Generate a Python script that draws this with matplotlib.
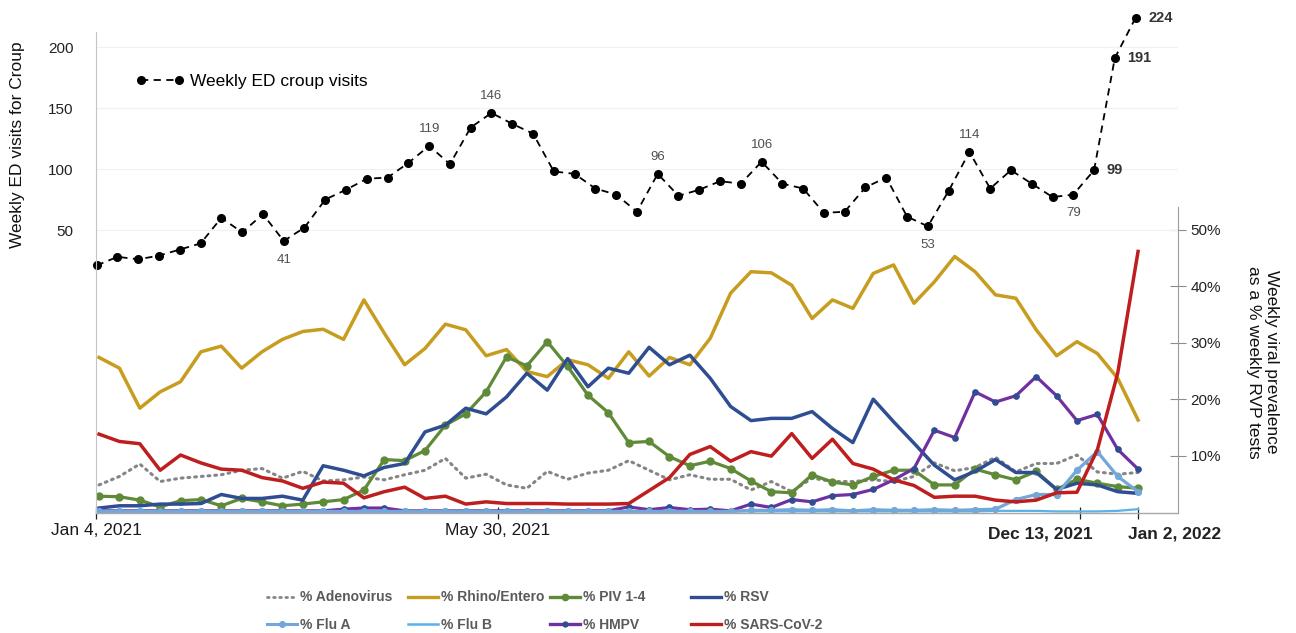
import matplotlib
matplotlib.use('Agg')
import matplotlib.pyplot as plt
from matplotlib.lines import Line2D

plt.rcParams['font.family'] = ['Liberation Sans', 'DejaVu Sans']

W, H = 1296, 633

########
## DATA
# weekly ED croup visits (51 weeks)
croup = [21, 28, 26, 29, 34, 39, 60, 48, 63, 41, 52, 75, 83, 92, 93, 105, 119, 104, 134, 146,
         137, 129, 98, 96, 84, 79, 65, 96, 78, 83, 90, 88, 106, 88, 84, 64, 65, 85, 93, 61,
         53, 82, 114, 84, 99, 88, 77, 79, 99, 191, 224]
lab_above = [16, 19, 27, 32, 42]
lab_below = [9, 40, 47]
lab_bold = [48, 49, 50]

# weekly viral prevalence, % of RVP tests (52 weeks)
adeno = [4.8, 6.3, 8.5, 5.4, 6.0, 6.3, 6.6, 7.4, 7.7, 6.0, 7.2, 5.5, 5.7, 6.2, 5.7, 6.6, 7.4, 9.5, 6.0, 6.7,
         4.8, 4.2, 7.2, 5.8, 6.9, 7.4, 9.1, 7.4, 5.7, 6.6, 5.8, 5.8, 3.9, 5.4, 3.6, 6.0, 5.4, 5.4, 5.7, 5.4,
         6.3, 8.7, 7.3, 7.9, 9.7, 7.1, 8.6, 8.6, 10.1, 7.1, 6.7, 7.0]
rhino = [27.4, 25.5, 18.4, 21.3, 23.1, 28.4, 29.4, 25.5, 28.4, 30.6, 32.0, 32.4, 30.6, 37.6, 31.7, 26.1, 29.0, 33.3, 32.3, 27.7,
         28.8, 24.9, 24.0, 27.0, 26.1, 23.7, 28.4, 24.1, 27.4, 26.1, 30.8, 38.8, 42.6, 42.4, 40.2, 34.3, 37.6, 36.1, 42.3, 43.8,
         37.0, 40.8, 45.3, 42.6, 38.5, 37.9, 32.3, 27.7, 30.2, 28.1, 23.7, 16.3]
piv = [2.8, 2.7, 2.1, 0.9, 2.0, 2.2, 1.1, 2.4, 1.8, 1.1, 1.4, 1.8, 2.2, 3.9, 9.3, 9.1, 10.9, 15.4, 17.4, 21.3,
       27.5, 25.9, 30.2, 25.8, 20.7, 17.6, 12.3, 12.5, 9.8, 8.2, 9.0, 7.7, 5.5, 3.6, 3.4, 6.6, 5.3, 4.8, 6.3, 7.4,
       7.4, 4.8, 4.8, 7.6, 6.6, 5.7, 7.2, 4.0, 5.8, 5.1, 4.5, 4.2]
rsv = [0.7, 1.1, 1.1, 1.4, 1.4, 1.5, 3.1, 2.4, 2.4, 2.8, 2.1, 8.2, 7.4, 6.4, 7.9, 8.6, 14.2, 15.4, 18.4, 17.4,
       20.4, 24.6, 21.6, 27.2, 22.2, 25.5, 24.6, 29.2, 26.1, 27.8, 23.7, 18.7, 16.2, 16.6, 16.6, 17.8, 14.8, 12.3, 20.0, 16.0,
       12.2, 8.3, 5.7, 7.2, 9.3, 7.0, 7.0, 4.0, 5.1, 4.8, 3.6, 3.3]
flu_a = [0.1, 0.1, 0.1, 0.1, 0.1, 0.1, 0.1, 0.1, 0.1, 0.1, 0.1, 0.1, 0.1, 0.1, 0.1, 0.1, 0.1, 0.1, 0.1, 0.1,
         0.1, 0.1, 0.1, 0.1, 0.1, 0.1, 0.1, 0.1, 0.1, 0.1, 0.1, 0.1, 0.3, 0.3, 0.4, 0.3, 0.4, 0.2, 0.4, 0.3,
         0.3, 0.4, 0.3, 0.4, 0.5, 2.2, 3.1, 3.1, 7.4, 10.7, 6.3, 3.6]
flu_b = [0.1, 0.1, 0.1, 0.1, 0.1, 0.1, 0.1, 0.1, 0.1, 0.1, 0.1, 0.1, 0.1, 0.1, 0.1, 0.1, 0.1, 0.1, 0.1, 0.1,
         0.1, 0.1, 0.1, 0.1, 0.1, 0.1, 0.1, 0.1, 0.1, 0.1, 0.1, 0.1, 0.1, 0.1, 0.1, 0.1, 0.1, 0.1, 0.1, 0.1,
         0.1, 0.1, 0.1, 0.1, 0.2, 0.2, 0.2, 0.1, 0.1, 0.1, 0.2, 0.5]
hmpv = [0.2, 0.2, 0.2, 0.2, 0.2, 0.2, 0.2, 0.2, 0.2, 0.2, 0.2, 0.2, 0.5, 0.7, 0.7, 0.2, 0.2, 0.2, 0.2, 0.2,
        0.2, 0.2, 0.2, 0.2, 0.2, 0.2, 0.9, 0.4, 0.8, 0.4, 0.5, 0.2, 1.4, 0.8, 2.2, 1.8, 2.9, 3.1, 4.0, 5.7,
        7.7, 14.5, 13.2, 21.3, 19.5, 20.6, 24.0, 20.6, 16.2, 17.3, 11.1, 7.6]
sars = [13.8, 12.5, 12.1, 7.4, 10.1, 8.7, 7.6, 7.4, 6.1, 5.5, 4.2, 5.3, 5.1, 2.5, 3.6, 4.4, 2.4, 2.8, 1.4, 1.8,
        1.5, 1.5, 1.5, 1.4, 1.4, 1.4, 1.5, 3.8, 6.1, 10.2, 11.6, 9.0, 10.7, 9.9, 13.9, 9.5, 12.9, 8.6, 7.6, 5.7,
        4.7, 2.6, 2.8, 2.8, 2.1, 1.8, 2.1, 3.4, 3.5, 11.0, 24.6, 46.2]

xtick_pos = [-0.15, 19.57, 48.17, 51.0]
xtick_lab = ['Jan 4, 2021', 'May 30, 2021', 'Dec 13, 2021', 'Jan 2, 2022']

C_ADENO, C_RHINO, C_PIV, C_RSV = '#858585', '#C79D20', '#5F8A38', '#2F4D92'
C_FLUA, C_FLUB, C_HMPV, C_SARS, C_MK = '#72A7DA', '#5AB2E6', '#7130A0', '#BE1E1E', '#2F4D92'

rect = [96 / W, 120 / H, (1178 - 96) / W, (513 - 32) / H]

fig = plt.figure(figsize=(W / 100, H / 100), dpi=100)

########
## LOWER PANEL: viral prevalence (right axis)
ax = fig.add_axes(rect)
wk = list(range(len(rhino)))
ax.plot(wk, adeno, color=C_ADENO, lw=2.2, ls=(0, (0.6, 1.6)), dash_capstyle='round')
ax.plot(wk, rhino, color=C_RHINO, lw=2.5, solid_joinstyle='round')
ax.plot(wk, piv, color=C_PIV, lw=2.3, marker='o', ms=5, solid_joinstyle='round')
ax.plot(wk, rsv, color=C_RSV, lw=2.5, solid_joinstyle='round')
ax.plot(wk, hmpv, color=C_HMPV, lw=2.3, marker='o', ms=3.8, mfc=C_MK, mec=C_MK, solid_joinstyle='round')
ax.plot(wk, flu_b, color=C_FLUB, lw=1.6)
ax.plot(wk, flu_a, color=C_FLUA, lw=2.3, marker='o', ms=4.2, solid_joinstyle='round')
ax.plot(wk, sars, color=C_SARS, lw=2.5, solid_joinstyle='round')

ax.set_xlim(-0.147, 52.96)
ax.set_ylim(-0.18, 85.1)
ax.yaxis.tick_right()
ax.set_yticks([10, 20, 30, 40, 50])
ax.set_yticklabels(['10%', '20%', '30%', '40%', '50%'])
ax.tick_params(axis='y', direction='inout', length=12, width=0.8, color='#8c8c8c',
               labelsize=11, labelcolor='#222222', pad=3)
ax.set_xticks(xtick_pos)
ax.set_xticklabels(['Jan 4, 2021', 'May 30, 2021', '', ''])
ax.tick_params(axis='x', direction='inout', length=8.5, width=0.9, color='#222222',
               labelsize=12.5, labelcolor='#1a1a1a', pad=3)
for sp in ['top', 'left']:
    ax.spines[sp].set_visible(False)
ax.spines['right'].set_bounds(-0.18, 54)
ax.spines['right'].set_color('#9a9a9a')
ax.spines['bottom'].set_color('#a8a8a8')
ax.spines['bottom'].set_linewidth(1.0)

ax.annotate(xtick_lab[2], xy=(xtick_pos[2], 0), xycoords=('data', 'axes fraction'),
            xytext=(8.5, -9.5), textcoords='offset points', ha='right', va='top',
            fontsize=12.5, fontweight='bold', color='#222222')
ax.annotate(xtick_lab[3], xy=(xtick_pos[3], 0), xycoords=('data', 'axes fraction'),
            xytext=(-7.5, -9.5), textcoords='offset points', ha='left', va='top',
            fontsize=12.5, fontweight='bold', color='#222222')

########
## UPPER PANEL: croup visits (left axis)
axc = fig.add_axes(rect)
axc.patch.set_visible(False)
axc.plot(range(len(croup)), croup, color='black', lw=1.3, ls=(0, (4, 3)),
         marker='o', ms=5.5, clip_on=False, label='Weekly ED croup visits')
axc.set_xlim(-0.034, 52.04)
axc.set_ylim(-181.97, 212.3)
axc.set_yticks([50, 100, 150, 200])
axc.set_xticks([])
axc.tick_params(axis='y', length=0, labelsize=11, labelcolor='#222222', pad=16)
axc.grid(axis='y', color='#f1f1f1', lw=0.9)
for sp in ['top', 'right', 'bottom']:
    axc.spines[sp].set_visible(False)
axc.spines['left'].set_color('#c4c4c4')

for i in lab_above:
    axc.annotate(str(croup[i]), (i, croup[i]), xytext=(0, 12), textcoords='offset points',
                 ha='center', va='center', fontsize=9.5, color='#505050', annotation_clip=False)
for i in lab_below:
    axc.annotate(str(croup[i]), (i, croup[i]), xytext=(0, -13.5), textcoords='offset points',
                 ha='center', va='center', fontsize=9.5, color='#505050', annotation_clip=False)
for i in lab_bold:
    axc.annotate(str(croup[i]), (i, croup[i]), xytext=(9, 0), textcoords='offset points',
                 ha='left', va='center', fontsize=10.5, fontweight='bold', color='#333333',
                 annotation_clip=False)

axc.legend(loc='center left', bbox_to_anchor=(136 / W, 1 - 81 / H), bbox_transform=fig.transFigure,
           frameon=False, fontsize=12.5, numpoints=2, handlelength=2.8, handletextpad=0.3,
           borderpad=0, borderaxespad=0)

## AXIS TITLES
fig.text(18 / W, 1 - 145 / H, 'Weekly ED visits for Croup', rotation=90, ha='center', va='center',
         fontsize=12.5, color='#111111')
fig.text(1263 / W, 1 - 362 / H, 'Weekly viral prevalence\nas a % weekly RVP tests', rotation=270,
         ha='center', va='center', fontsize=12.5, color='#111111', linespacing=1.25)

########
## BOTTOM LEGEND (4 fixed-width columns)
cols = [
    [Line2D([], [], color=C_ADENO, lw=2, ls=(0, (0.6, 1.6)), dash_capstyle='round'),
     Line2D([], [], color=C_FLUA, lw=2.2, marker='o', ms=4)],
    [Line2D([], [], color=C_RHINO, lw=2.4), Line2D([], [], color=C_FLUB, lw=1.8)],
    [Line2D([], [], color=C_PIV, lw=2.4, marker='o', ms=4.5),
     Line2D([], [], color=C_HMPV, lw=2.4, marker='o', ms=3.5, mfc=C_MK, mec=C_MK)],
    [Line2D([], [], color=C_RSV, lw=2.4), Line2D([], [], color=C_SARS, lw=2.4)],
]
col_names = [['% Adenovirus', '% Flu A'], ['% Rhino/Entero', '% Flu B'],
             ['% PIV 1-4', '% HMPV'], ['% RSV', '% SARS-CoV-2']]
col_x = [267, 408, 550, 691]
for hs, names, x0 in zip(cols, col_names, col_x):
    lg = fig.legend(hs, names, loc='center left', bbox_to_anchor=(x0 / W, 1 - 611 / H),
                    frameon=False, fontsize=10, numpoints=1, handlelength=2.15,
                    handletextpad=0.25, labelspacing=0.95, borderpad=0, borderaxespad=0)
    for t in lg.get_texts():
        t.set_fontweight('bold')
        t.set_color('#5a5a5a')

plt.savefig('out.png', dpi=100)
